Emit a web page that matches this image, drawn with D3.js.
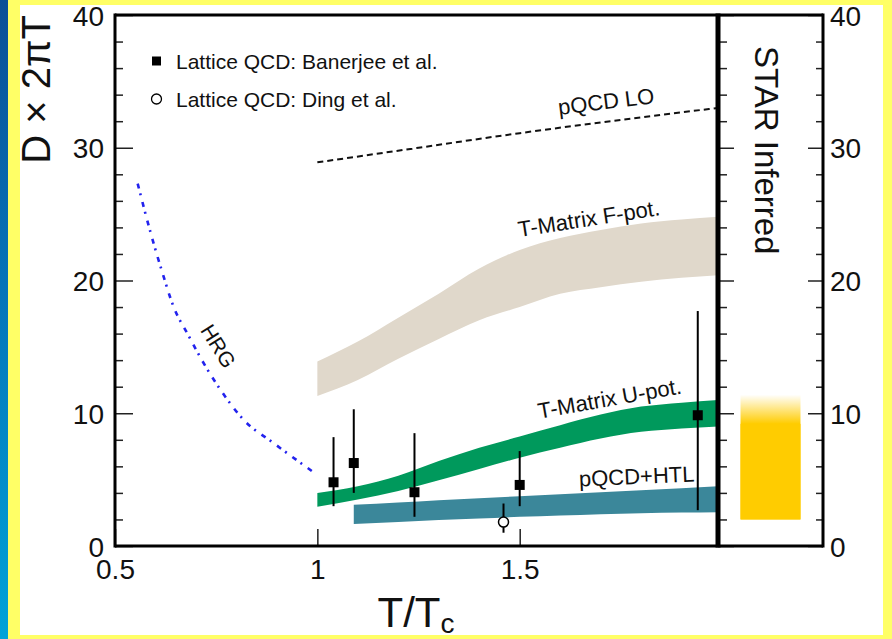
<!DOCTYPE html>
<html>
<head>
<meta charset="utf-8">
<script src="https://cdn.jsdelivr.net/npm/d3@7"></script>
<style>
  body { margin: 0; background: #fff; }
  text { font-family: "Liberation Sans", Arial, Helvetica, sans-serif; fill: #111; }
</style>
</head>
<body>
<svg id="chart" width="892" height="639"></svg>
<script>
// ---- data: spatial diffusion coefficient D x 2piT versus T/Tc ----
const xTicks = [0.5, 1, 1.5];
const xTickLabels = ["0.5", "1", "1.5"];
const yTicks = [0, 10, 20, 30, 40];
const yMinorTicks = [2, 4, 6, 8, 12, 14, 16, 18, 22, 24, 26, 28, 32, 34, 36, 38];

// T-matrix bands (free-energy and internal-energy potentials)
const tGrid      = [1.0, 1.1, 1.2, 1.3, 1.4, 1.5, 1.6, 1.7, 1.8, 1.9, 1.99];
const fPotUpper  = [13.9, 15.4, 17.2, 19.0, 20.9, 22.3, 23.2, 23.8, 24.3, 24.6, 24.8];
const fPotLower  = [11.3, 12.5, 14.1, 15.6, 17.0, 18.0, 19.0, 19.5, 19.9, 20.2, 20.4];
const uPotUpper  = [4.0, 4.5, 5.3, 6.4, 7.4, 8.25, 9.1, 9.9, 10.5, 10.8, 11.0];
const uPotLower  = [2.95, 3.5, 4.15, 4.95, 5.8, 6.65, 7.4, 8.1, 8.6, 8.85, 9.0];

// pQCD + HTL band
const htlT       = [1.09, 1.2, 1.3, 1.4, 1.5, 1.6, 1.7, 1.8, 1.9, 1.99];
const htlUpper   = [3.1, 3.27, 3.45, 3.6, 3.75, 3.9, 4.05, 4.2, 4.35, 4.5];
const htlLower   = [1.65, 1.8, 1.95, 2.07, 2.2, 2.3, 2.4, 2.47, 2.52, 2.55];

// leading-order pQCD
const loT        = [1.0, 1.25, 1.5, 1.75, 1.99];
const loD        = [28.9, 30.0, 31.1, 32.1, 33.0];

// hadron resonance gas
const hrgT       = [0.556, 0.588, 0.617, 0.645, 0.679, 0.711, 0.761, 0.818, 0.892, 0.991];
const hrgD       = [27.3, 23.6, 20.6, 18.0, 16.0, 14.2, 11.75, 9.5, 7.75, 5.55];

// lattice QCD points
const banerjeeT  = [1.04, 1.09, 1.24, 1.50, 1.94];
const banerjeeD  = [4.8, 6.25, 4.05, 4.6, 9.85];
const banerjeeLo = [3.0, 4.0, 2.2, 3.0, 2.7];
const banerjeeHi = [8.2, 10.3, 8.5, 7.15, 17.7];
const dingT      = [1.46];
const dingD      = [1.8];
const dingLo     = [1.0];
const dingHi     = [3.2];

// STAR inferred range (solid up to starSolid, fading out towards starTop)
const starPanel  = ["STAR"];
const starBottom = 2.0;
const starSolid  = 9.2;
const starTop    = 11.4;

// ---- layout ----
const svg = d3.select("#chart");
const W = 892, H = 639;
const pLeft = 115, pTop = 15, pBottom = 546, pDivider = 718, pRight = 823;

const x = d3.scaleLinear().domain([0.5, 1.99]).range([pLeft, pDivider]);
const y = d3.scaleLinear().domain([0, 40]).range([pBottom, pTop]);
const xs = d3.scaleBand().domain(starPanel).range([pDivider, pRight]).padding(0.273);

const defs = svg.append("defs");
const side = defs.append("linearGradient").attr("id", "sideGrad")
  .attr("x1", 0).attr("y1", 0).attr("x2", 0).attr("y2", 1);
side.append("stop").attr("offset", 0).attr("stop-color", "#0b4f96");
side.append("stop").attr("offset", 0.45).attr("stop-color", "#0574b8");
side.append("stop").attr("offset", 1).attr("stop-color", "#00a3d8");

const starGrad = defs.append("linearGradient").attr("id", "starGrad")
  .attr("gradientUnits", "userSpaceOnUse")
  .attr("x1", 0).attr("x2", 0).attr("y1", y(starTop)).attr("y2", y(starSolid));
starGrad.append("stop").attr("offset", 0).attr("stop-color", "#ffcc00").attr("stop-opacity", 0);
starGrad.append("stop").attr("offset", 1).attr("stop-color", "#ffcc00").attr("stop-opacity", 1);

// page frame
svg.append("rect").attr("x", 0).attr("y", 0).attr("width", W).attr("height", H).attr("fill", "#ffff66");
svg.append("rect").attr("x", 0).attr("y", 0).attr("width", 8).attr("height", H).attr("fill", "url(#sideGrad)");
svg.append("rect").attr("x", 20).attr("y", 5).attr("width", 863).attr("height", 630).attr("fill", "#fff");

// ---- bands ----
function band(ts, lo, hi, color) {
  const pts = ts.map((t, i) => ({ t, lo: lo[i], hi: hi[i] }));
  svg.append("path").datum(pts)
    .attr("d", d3.area().x(d => x(d.t)).y0(d => y(d.lo)).y1(d => y(d.hi)).curve(d3.curveMonotoneX))
    .attr("fill", color);
}
band(tGrid, fPotLower, fPotUpper, "#e0d8cb");
band(tGrid, uPotLower, uPotUpper, "#00995c");
band(htlT, htlLower, htlUpper, "#3b879a");

// ---- lines ----
const line = d3.line().x(d => x(d[0])).y(d => y(d[1])).curve(d3.curveMonotoneX);
svg.append("path").datum(loT.map((t, i) => [t, loD[i]]))
  .attr("d", line).attr("fill", "none").attr("stroke", "#111")
  .attr("stroke-width", 2).attr("stroke-dasharray", "6,4");
svg.append("path").datum(hrgT.map((t, i) => [t, hrgD[i]]))
  .attr("d", line).attr("fill", "none").attr("stroke", "#2222ee")
  .attr("stroke-width", 2.6).attr("stroke-dasharray", "5,5,2,7");

// ---- STAR inferred range ----
svg.append("rect")
  .attr("x", xs("STAR")).attr("width", xs.bandwidth())
  .attr("y", y(starTop)).attr("height", y(starBottom) - y(starTop))
  .attr("fill", "url(#starGrad)");
svg.append("rect")
  .attr("x", xs("STAR")).attr("width", xs.bandwidth())
  .attr("y", y(starSolid)).attr("height", y(starBottom) - y(starSolid))
  .attr("fill", "#ffcc00");

// ---- lattice points ----
const ban = banerjeeT.map((t, i) => ({ t, d: banerjeeD[i], lo: banerjeeLo[i], hi: banerjeeHi[i] }));
const ding = dingT.map((t, i) => ({ t, d: dingD[i], lo: dingLo[i], hi: dingHi[i] }));
svg.selectAll(".errB").data(ban.concat(ding)).join("line")
  .attr("x1", d => x(d.t)).attr("x2", d => x(d.t))
  .attr("y1", d => y(d.lo)).attr("y2", d => y(d.hi))
  .attr("stroke", "#000").attr("stroke-width", 2);
svg.selectAll(".sq").data(ban).join("rect")
  .attr("x", d => x(d.t) - 5).attr("y", d => y(d.d) - 5)
  .attr("width", 10).attr("height", 10).attr("fill", "#000");
svg.selectAll(".circ").data(ding).join("circle")
  .attr("cx", d => x(d.t)).attr("cy", d => y(d.d)).attr("r", 5)
  .attr("fill", "#fff").attr("stroke", "#000").attr("stroke-width", 1.5);

// ---- axes ----
function styleAxis(g) {
  g.select(".domain").remove();
  g.selectAll(".tick line").attr("stroke", "#222").attr("stroke-width", 1.5);
  g.selectAll(".tick text").attr("font-size", 28).attr("fill", "#111")
    .attr("font-family", '"Liberation Sans", Arial, Helvetica, sans-serif');
}
// left axis
svg.append("g").attr("transform", `translate(${pLeft},0)`)
  .call(d3.axisLeft(y).tickValues(yTicks).tickSize(-18).tickPadding(11).tickFormat(d3.format("d")))
  .call(styleAxis)
  .selectAll(".tick text").attr("dy", "0.36em");
svg.append("g").attr("transform", `translate(${pLeft},0)`)
  .call(d3.axisLeft(y).tickValues(yMinorTicks).tickSize(-8).tickFormat(""))
  .call(styleAxis);
// ticks on the STAR panel's left edge
svg.append("g").attr("transform", `translate(${pDivider},0)`)
  .call(d3.axisLeft(y).tickValues(yTicks).tickSize(-16).tickFormat(""))
  .call(styleAxis);
svg.append("g").attr("transform", `translate(${pDivider},0)`)
  .call(d3.axisLeft(y).tickValues(yMinorTicks).tickSize(-9).tickFormat(""))
  .call(styleAxis);
// right axis
svg.append("g").attr("transform", `translate(${pRight},0)`)
  .call(d3.axisRight(y).tickValues(yTicks).tickSize(-15).tickPadding(7).tickFormat(d3.format("d")))
  .call(styleAxis)
  .selectAll(".tick text").attr("dy", "0.36em");
svg.append("g").attr("transform", `translate(${pRight},0)`)
  .call(d3.axisRight(y).tickValues(yMinorTicks).tickSize(-7).tickFormat(""))
  .call(styleAxis);
// bottom axis
svg.append("g").attr("transform", `translate(0,${pBottom})`)
  .call(d3.axisBottom(x).tickValues(xTicks).tickSize(-17).tickPadding(13)
    .tickFormat((d, i) => xTickLabels[i]))
  .call(styleAxis);

// frame
const frame = svg.append("g").attr("stroke", "#000").attr("fill", "none");
frame.append("line").attr("x1", pLeft).attr("x2", pRight).attr("y1", pTop).attr("y2", pTop).attr("stroke-width", 3);
frame.append("line").attr("x1", pLeft).attr("x2", pRight).attr("y1", pBottom).attr("y2", pBottom).attr("stroke-width", 3);
frame.append("line").attr("x1", pLeft).attr("x2", pLeft).attr("y1", pTop - 1.5).attr("y2", pBottom + 1.5).attr("stroke-width", 3);
frame.append("line").attr("x1", pRight).attr("x2", pRight).attr("y1", pTop - 1.5).attr("y2", pBottom + 1.5).attr("stroke-width", 3);
frame.append("line").attr("x1", pDivider).attr("x2", pDivider).attr("y1", pTop - 1.5).attr("y2", pBottom + 1.5).attr("stroke-width", 5);

// axis titles
svg.append("text").attr("transform", `translate(50,${pTop}) rotate(-90)`)
  .attr("text-anchor", "end").attr("font-size", 40).text("D × 2πT");
const xt = svg.append("text").attr("x", 416).attr("y", 627)
  .attr("text-anchor", "middle").attr("font-size", 42);
xt.append("tspan").text("T/T");
xt.append("tspan").attr("font-size", 28).attr("dy", 6).text("c");

// STAR panel label
svg.append("text").attr("transform", `translate(755,46) rotate(90)`)
  .attr("font-size", 33).text("STAR Inferred");

// legend
const legend = svg.append("g");
legend.append("rect").attr("x", 152).attr("y", 56.5).attr("width", 9).attr("height", 9).attr("fill", "#000");
legend.append("text").attr("x", 176).attr("y", 68.5).attr("font-size", 21).text("Lattice QCD: Banerjee et al.");
legend.append("circle").attr("cx", 156.5).attr("cy", 99).attr("r", 5)
  .attr("fill", "#fff").attr("stroke", "#000").attr("stroke-width", 1.3);
legend.append("text").attr("x", 176).attr("y", 106.5).attr("font-size", 21).text("Lattice QCD: Ding et al.");

// curve labels
function label(txt, cx, cy, angle, size) {
  svg.append("text").attr("transform", `translate(${cx},${cy}) rotate(${angle})`)
    .attr("text-anchor", "middle").attr("font-size", size).text(txt);
}
label("pQCD LO", 607, 109, -7, 22);
label("T-Matrix F-pot.", 590, 226, -8.8, 22);
label("T-Matrix U-pot.", 611, 406, -10, 22);
label("pQCD+HTL", 637, 484, -2.5, 22);
label("HRG", 212, 350, 58, 21);
</script>
</body>
</html>
